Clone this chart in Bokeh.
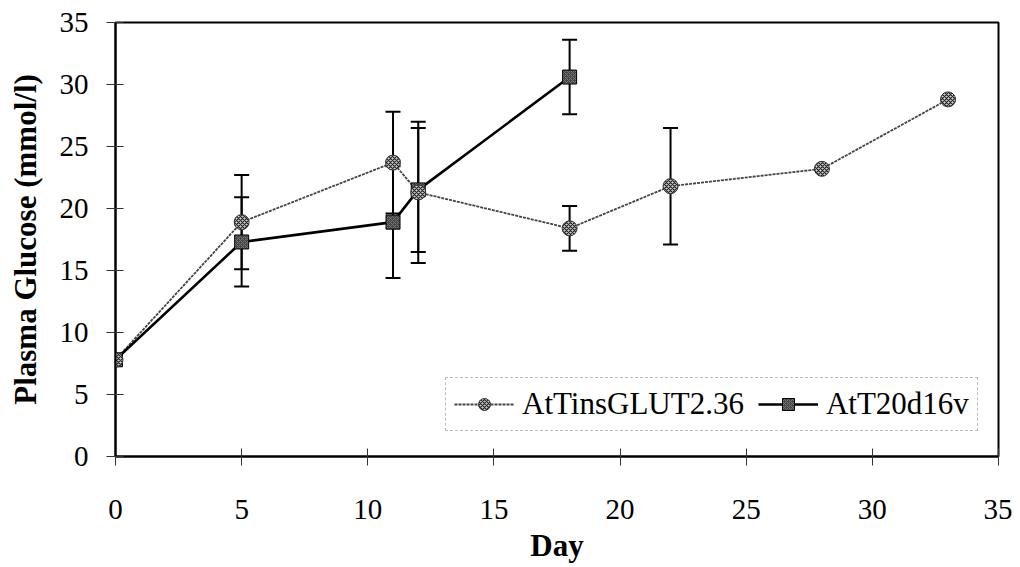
from bokeh.plotting import figure
from bokeh.models import (Range1d, FixedTicker, Whisker, TeeHead, ColumnDataSource,
                          Legend, LegendItem)
from bokeh.embed import file_html
from bokeh.resources import INLINE

# ---- data ----
days_a = [0, 5, 11, 12, 18, 22, 28, 33]
glucose_a = [7.8, 18.9, 23.7, 21.3, 18.4, 21.8, 23.2, 28.8]
err_a = [0, 3.8, 4.1, 5.7, 1.8, 4.7, 0, 0]

days_b = [0, 5, 11, 12, 18]
glucose_b = [7.8, 17.3, 18.9, 21.5, 30.6]
err_b = [0, 3.6, 4.5, 5.0, 3.0]

name_a = "AtTinsGLUT2.36"
name_b = "AtT20d16v"
x_ticks = [0, 5, 10, 15, 20, 25, 30, 35]
y_ticks = [0, 5, 10, 15, 20, 25, 30, 35]

FONT = "Liberation Serif"

src_a = ColumnDataSource(dict(x=days_a, y=glucose_a,
                              lo=[v - e for v, e in zip(glucose_a, err_a)],
                              hi=[v + e for v, e in zip(glucose_a, err_a)]))
src_b = ColumnDataSource(dict(x=days_b, y=glucose_b,
                              lo=[v - e for v, e in zip(glucose_b, err_b)],
                              hi=[v + e for v, e in zip(glucose_b, err_b)]))

p = figure(width=1012, height=565, output_backend="svg", toolbar_location=None,
           x_range=Range1d(0, 35), y_range=Range1d(0, 35),
           min_border_left=115, min_border_right=14, min_border_top=22,
           min_border_bottom=108)
p.background_fill_color = "white"
p.border_fill_color = "white"
p.outline_line_color = "black"
p.outline_line_width = 2
p.xgrid.visible = False
p.ygrid.visible = False

for ax, ticks in ((p.xaxis[0], x_ticks), (p.yaxis[0], y_ticks)):
    ax.ticker = FixedTicker(ticks=ticks)
    ax.minor_tick_line_color = None
    ax.major_tick_in = 8
    ax.major_tick_out = 9
    ax.major_tick_line_color = "#333333"
    ax.major_tick_line_width = 1
    ax.axis_line_color = "black"
    ax.axis_line_width = 2
    ax.major_label_text_font = FONT
    ax.major_label_text_font_size = "29px"
    ax.major_label_text_color = "black"
    ax.axis_label_text_font = FONT
    ax.axis_label_text_font_style = "bold"
    ax.axis_label_text_font_size = "31px"
    ax.axis_label_text_color = "black"

p.xaxis.axis_label = "Day"
p.yaxis.axis_label = "Plasma Glucose (mmol/l)"
p.xaxis.major_label_standoff = 34
p.xaxis.axis_label_standoff = 6
p.yaxis.major_label_standoff = 18
p.yaxis.axis_label_standoff = 14

# error bars
for src in (src_a, src_b):
    w = Whisker(source=src, base="x", upper="hi", lower="lo", dimension="height",
                line_color="black", line_width=2, level="underlay",
                upper_head=TeeHead(size=15, line_color="black", line_width=2),
                lower_head=TeeHead(size=15, line_color="black", line_width=2))
    p.add_layout(w)

# series A: dotted line with hatched circles
la = p.line("x", "y", source=src_a, line_color="#444444", line_width=1.8,
            line_dash="3 1")
# series B: solid line with dark squares
lb = p.line("x", "y", source=src_b, line_color="black", line_width=2.6)
mb = p.scatter("x", "y", source=src_b, marker="square", size=14,
               fill_color="#444444", line_color="black", line_width=1,
               hatch_pattern="diagonal_cross", hatch_color="#777777", hatch_scale=4)
ma = p.scatter("x", "y", source=src_a, marker="circle", size=15,
               fill_color="#cccccc", line_color="#333333", line_width=1,
               hatch_pattern="diagonal_cross", hatch_color="#222222", hatch_scale=4,
               hatch_weight=1.2)

legend = Legend(items=[LegendItem(label=name_a, renderers=[la, ma]),
                       LegendItem(label=name_b, renderers=[lb, mb])],
                orientation="horizontal", location=(330, 25),
                label_text_font=FONT, label_text_font_size="31px",
                label_text_color="black",
                glyph_width=60, glyph_height=30, label_standoff=8, spacing=14,
                padding=8, margin=0,
                border_line_color="#777777", border_line_width=1,
                border_line_dash="3 1",
                background_fill_color="white", background_fill_alpha=1)
p.add_layout(legend)

open("out.html", "w").write(file_html(p, INLINE))
